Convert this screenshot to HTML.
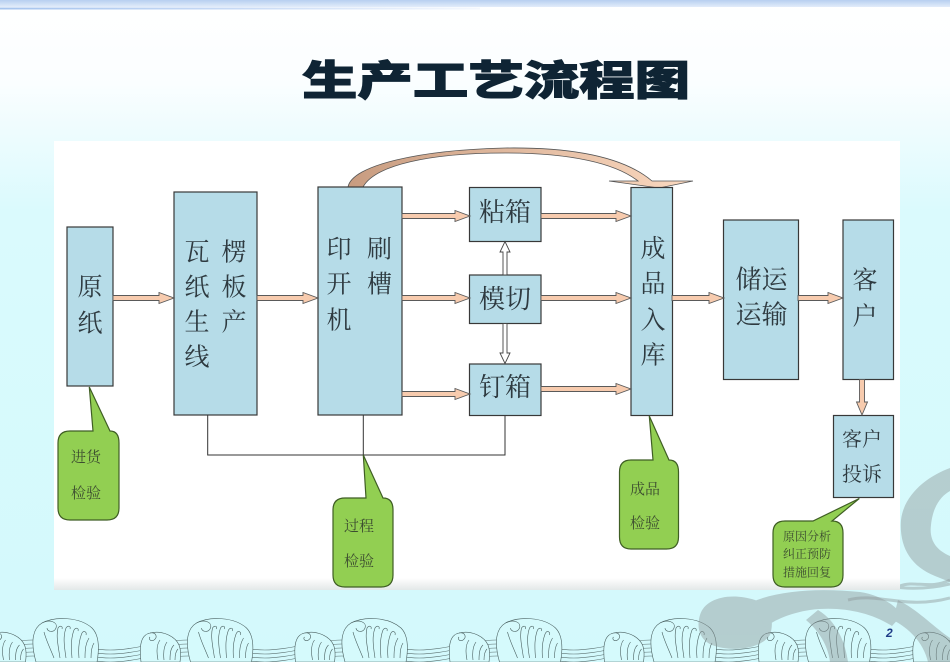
<!DOCTYPE html>
<html><head><meta charset="utf-8"><style>
html,body{margin:0;padding:0;width:950px;height:662px;overflow:hidden;background:#d5fafc;}
svg{display:block}
</style></head><body>
<svg width="950" height="662" viewBox="0 0 950 662" xmlns="http://www.w3.org/2000/svg">
<defs>
<linearGradient id="bg" x1="0" y1="0" x2="0" y2="1">
<stop offset="0" stop-color="#ffffff"/>
<stop offset="0.12" stop-color="#fbfeff"/>
<stop offset="0.2" stop-color="#eefcfe"/>
<stop offset="0.32" stop-color="#dafafd"/>
<stop offset="1" stop-color="#d3f9fc"/>
</linearGradient>
<linearGradient id="topband" x1="0" y1="0" x2="0" y2="1">
<stop offset="0" stop-color="#b7cff0"/>
<stop offset="1" stop-color="#e2ecfa"/>
</linearGradient>
<linearGradient id="thin" x1="0" y1="0" x2="1" y2="0">
<stop offset="0" stop-color="#a6c4ee"/>
<stop offset="0.5" stop-color="#c8daf5"/>
<stop offset="1" stop-color="#f4f8fe"/>
</linearGradient>
<linearGradient id="shadow" x1="0" y1="0" x2="0" y2="1">
<stop offset="0" stop-color="#ffffff"/>
<stop offset="1" stop-color="#e3e8e8"/>
</linearGradient>
<linearGradient id="curve" x1="0" y1="0" x2="1" y2="0">
<stop offset="0" stop-color="#c89c80"/>
<stop offset="1" stop-color="#fbd9c0"/>
</linearGradient>
<g id="lines" fill="none" stroke="#5a7070" stroke-width="0.6">
<path d="M33,640 C58.7,640 84.5,650 110.25,650 S161.8,640 187.5,640"/>
<path d="M33,644 C58.7,644 84.5,654 110.25,654 S161.8,644 187.5,644"/>
<path d="M33,648 C58.7,648 84.5,658 110.25,658 S161.8,648 187.5,648"/>
<path d="M33,652 C58.7,652 84.5,662 110.25,662 S161.8,652 187.5,652"/>
<path d="M33,656 C58.7,656 84.5,666 110.25,666 S161.8,656 187.5,656"/>
</g>
<g id="crest" stroke="#4a6060" stroke-width="0.6">
<path fill="#d5fafc" d="M36,662 C32,648 30,630 42,623 C55,616 80,617 92,628 C98,634 100,645 97,662 Z"/>
<path fill="none" d="M42,623 C50,619 58,622 56,628 C54,633 47,632 47,628"/>
<path fill="none" d="M44,632 C46,640 50,648 54,658 M60,658 C58,645 56,636 58,628 C60,625 63,626 62,629 M66,658 C64,645 63,636 66,628 C68,625 71,626 70,629 M72,658 C71,646 71,638 74,630 C76,627 79,628 78,631 M79,658 C78,647 79,640 82,633 C84,630 87,632 86,635 M85,658 C85,648 86,643 89,638 M91,658 C91,650 92,646 94,643"/>
<path fill="#d5fafc" d="M141,662 C139,645 141,635 150,633 C162,630 175,636 179,645 C181,650 181,655 180,662 Z"/>
<path fill="none" d="M150,633 C156,632 158,637 154,640 C151,642 148,639 150,637 M158,660 C156,650 157,644 160,640 M164,660 C163,651 164,646 167,642 M170,660 C170,652 171,648 174,645 M175,660 C175,655 176,651 178,649"/>
</g>
</defs>

<rect x="0" y="0" width="950" height="662" fill="url(#bg)"/>
<rect x="0" y="0" width="950" height="7" fill="url(#topband)"/>
<rect x="0" y="7.5" width="480" height="2" fill="url(#thin)"/>

<text x="302" y="95" font-family="'Noto Sans CJK SC','WenQuanYi Zen Hei',sans-serif" font-weight="900" font-size="41" fill="#0f2434" stroke="#0f2434" stroke-width="1" textLength="388" lengthAdjust="spacingAndGlyphs">生产工艺流程图</text>

<g>
<use href="#lines" x="-154.5"/><use href="#lines" x="0"/><use href="#lines" x="154.5"/><use href="#lines" x="309"/><use href="#lines" x="463.5"/><use href="#lines" x="618"/><use href="#lines" x="772.5"/><use href="#lines" x="927"/>
<use href="#crest" x="-154.5"/><use href="#crest" x="0"/><use href="#crest" x="154.5"/><use href="#crest" x="309"/><use href="#crest" x="463.5"/><use href="#crest" x="618"/><use href="#crest" x="772.5"/>
</g>

<g opacity="0.45" fill="#8e989a">
<path d="M950,468 C928,476 904,494 901,520 C899,546 910,566 935,576 L950,582 L950,556 C936,550 929,540 931,525 C933,506 941,496 950,491 Z"/>
<path d="M700,615 C705,598 730,592 755,600 C770,605 775,620 770,635 C760,650 730,652 712,645 C700,640 696,628 700,615 Z"/>
<path d="M752,602 C780,590 820,588 860,592 C880,595 895,605 902,615 L892,626 C870,612 840,606 810,610 C790,613 775,620 765,627 Z"/>
<path d="M818,610 C835,620 845,640 848,662 L830,662 C828,645 818,630 806,620 Z"/>
<path d="M898,600 C918,610 935,628 950,638 L950,662 L928,662 C924,645 912,630 893,620 Z"/>
</g>
<g opacity="0.45" fill="none" stroke="#8e989a" stroke-width="3">
<path d="M842,586 C870,578 900,596 950,584"/>
<path d="M848,600 C878,592 905,610 950,598"/>
<path d="M900,586 C915,580 930,590 950,580"/>
</g>

<rect x="54" y="141" width="846" height="449" fill="#ffffff"/>
<rect x="54" y="578" width="846" height="12" fill="url(#shadow)"/>

<g stroke="#333" stroke-width="1" fill="none">
<path d="M207.7,415 V455 H505 V415"/>
<path d="M363.3,415 V455"/>
</g>

<path d="M348,187 C352,165 420,150 505,148 C575,147 625,158 652,181 L693,181 L659,188 L609,181 L638,181 C615,163 570,153 505,153 C430,153 375,165 363,187 Z" fill="url(#curve)" stroke="#555" stroke-width="0.8"/>

<g fill="#b6dce8" stroke="#383838" stroke-width="1.2">
<rect x="67" y="227" width="46" height="159"/>
<rect x="174" y="192" width="83" height="223"/>
<rect x="318" y="187" width="84" height="228"/>
<rect x="469.5" y="187.5" width="71.5" height="54"/>
<rect x="469.5" y="275" width="71.5" height="48.5"/>
<rect x="469.5" y="364" width="71.5" height="51.5"/>
<rect x="631" y="187.5" width="41.5" height="228"/>
<rect x="723.5" y="220" width="75" height="159.5"/>
<rect x="843" y="220" width="50.5" height="159.5"/>
<rect x="833.5" y="415.5" width="60" height="82"/>
</g>

<g fill="#f7cbae" stroke="#5a5a5a" stroke-width="0.9">
<polygon points="113,295.5 159,295.5 159,292.5 174,298 159,303.5 159,300.5 113,300.5"/>
<polygon points="257,295.5 303,295.5 303,292.5 318,298 303,303.5 303,300.5 257,300.5"/>
<polygon points="402,213.5 455,213.5 455,210.5 470,216 455,221.5 455,218.5 402,218.5"/>
<polygon points="402,295.5 455,295.5 455,292.5 470,298 455,303.5 455,300.5 402,300.5"/>
<polygon points="402,391.5 455,391.5 455,388.5 470,394 455,399.5 455,396.5 402,396.5"/>
<polygon points="541,213.5 616,213.5 616,210.5 631,216 616,221.5 616,218.5 541,218.5"/>
<polygon points="541,295.5 616,295.5 616,292.5 631,298 616,303.5 616,300.5 541,300.5"/>
<polygon points="541,386.5 616,386.5 616,383.5 631,389 616,394.5 616,391.5 541,391.5"/>
<polygon points="672,295.5 709,295.5 709,292.5 724,298 709,303.5 709,300.5 672,300.5"/>
<polygon points="798,295.5 828,295.5 828,292.5 843,298 828,303.5 828,300.5 798,300.5"/>
<polygon points="859.5,379.5 859.5,402 856.5,402 862,415 867.5,402 864.5,402 864.5,379.5"/>
</g>
<g fill="#ffffff" stroke="#444" stroke-width="0.9">
<polygon points="503,275 503,252 500,252 505,241.5 510,252 507,252 507,275"/>
<polygon points="503,323.5 503,353 500,353 505,363.5 510,353 507,353 507,323.5"/>
</g>

<g fill="#92cf52" stroke="#3f5e24" stroke-width="1.2">
<path d="M70,431 L93,431 L89.3,387 L110,431 Q119,431 119,443 L119,508 Q119,520 107,520 L70,520 Q58,520 58,508 L58,443 Q58,431 70,431 Z"/>
<path d="M345,498 L366,498 L363.3,455 L383,498 Q393,498 393,510 L393,575 Q393,587 381,587 L345,587 Q333,587 333,575 L333,510 Q333,498 345,498 Z"/>
<path d="M631,460 L653,460 L649.3,416 L669,460 Q678.5,460 678.5,472 L678.5,537 Q678.5,549 666.5,549 L631,549 Q619.5,549 619.5,537 L619.5,472 Q619.5,460 631,460 Z"/>
<path d="M785,521 L813,521 L859.3,498.5 L832,521 Q843,521 843,533 L843,575 Q843,587 831,587 L785,587 Q773,587 773,575 L773,533 Q773,521 785,521 Z"/>
</g>

<g font-family="'Liberation Serif','Noto Serif CJK SC','Noto Sans CJK SC',serif" fill="#2e3a40" text-anchor="middle" font-size="25">
<text x="90" y="295.5">原</text>
<text x="90" y="331.5">纸</text>
<text x="197" y="260.5">瓦</text><text x="234" y="260.5">楞</text>
<text x="197" y="295.5">纸</text><text x="234" y="295.5">板</text>
<text x="197" y="330.5">生</text><text x="234" y="330.5">产</text>
<text x="197" y="365.5">线</text>
<text x="339" y="257.5">印</text><text x="379.5" y="257.5">刷</text>
<text x="339" y="292.5">开</text><text x="379.5" y="292.5">槽</text>
<text x="339" y="328.5">机</text>
<text x="505" y="221" font-size="26">粘箱</text>
<text x="505" y="308" font-size="26">模切</text>
<text x="505" y="396" font-size="26">钉箱</text>
<text x="653" y="257">成</text>
<text x="653" y="292">品</text>
<text x="653" y="328.5">入</text>
<text x="653" y="363.5">库</text>
<text x="761.5" y="288.5" font-size="26">储运</text>
<text x="761.5" y="323.5" font-size="26">运输</text>
<text x="865" y="288.5">客</text>
<text x="865" y="324.5">户</text>
<text x="862" y="446" font-size="20">客户</text>
<text x="862" y="481" font-size="20">投诉</text>
</g>

<g font-family="'Liberation Serif','Noto Serif CJK SC','Noto Sans CJK SC',serif" fill="#3c4c30" text-anchor="middle" font-size="15">
<text x="86" y="462">进货</text>
<text x="86" y="498">检验</text>
<text x="359" y="531">过程</text>
<text x="359" y="566">检验</text>
<text x="645" y="494">成品</text>
<text x="645" y="528">检验</text>
<text x="807" y="540.5" font-size="12">原因分析</text>
<text x="807" y="558" font-size="12">纠正预防</text>
<text x="807" y="576.5" font-size="12">措施回复</text>
</g>

<text x="886" y="637" font-family="'Liberation Sans',sans-serif" font-weight="bold" font-style="italic" font-size="12" fill="#1f3c88">2</text>
</svg>
</body></html>
